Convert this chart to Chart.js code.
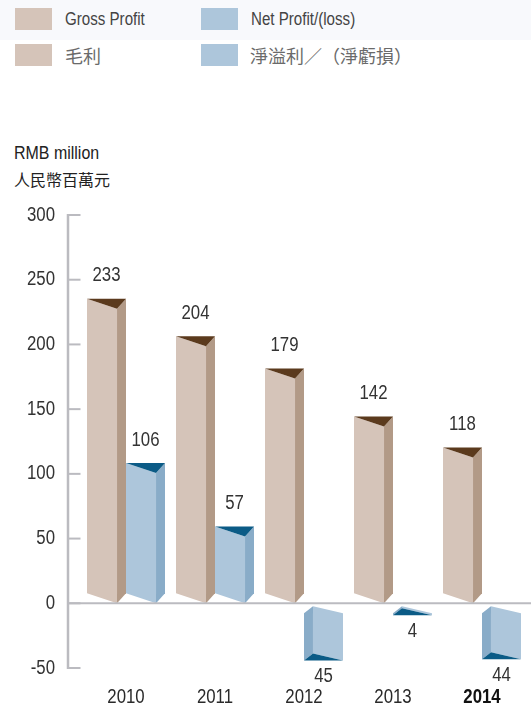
<!DOCTYPE html>
<html>
<head>
<meta charset="utf-8">
<script src="https://cdn.jsdelivr.net/npm/chart.js@4.4.1/dist/chart.umd.min.js"></script>
<style>
  html, body { margin: 0; padding: 0; background: #ffffff; }
  #wrap { position: relative; width: 531px; height: 710px; overflow: hidden;
          font-family: 'Liberation Sans', Arial, sans-serif; }
  #band { position: absolute; left: 0; top: 0; width: 531px; height: 40px; background: #f8f9fc; }
  .sw { position: absolute; width: 37px; height: 22px; }
  .lt { position: absolute; font-size: 18px; color: #444; line-height: 22px; white-space: nowrap;
        transform: scaleX(0.84); transform-origin: 0 50%; }
  .cjk { font-family: 'Noto Sans CJK TC', 'Noto Sans CJK SC', sans-serif; color: #6a6a6a; font-size: 18px;
         transform: none; }
  #unit1 { position: absolute; left: 14px; top: 142px; font-size: 19px; color: #222; line-height: 22px;
           white-space: nowrap; transform: scaleX(0.84); transform-origin: 0 50%; }
  #unit2 { position: absolute; left: 14px; top: 168px; font-size: 16px; color: #222; line-height: 22px;
           font-family: 'Noto Sans CJK TC', 'Noto Sans CJK SC', sans-serif; }
  #chartBox { position: absolute; left: 0; top: 0; width: 531px; height: 710px; }
</style>
</head>
<body>
<div id="wrap">
  <div id="band"></div>
  <div class="sw" style="left:15px;top:8px;background:#d5c4b9"></div>
  <div class="lt" style="left:65px;top:8px">Gross Profit</div>
  <div class="sw" style="left:201px;top:8px;background:#adc6db"></div>
  <div class="lt" style="left:251px;top:8px">Net Profit/(loss)</div>
  <div class="sw" style="left:15px;top:44px;background:#d5c4b9"></div>
  <div class="lt cjk" style="left:65px;top:44px">毛利</div>
  <div class="sw" style="left:201px;top:44px;background:#adc6db"></div>
  <div class="lt cjk" style="left:250px;top:44px">淨溢利／（淨虧損）</div>
  <div id="unit1">RMB million</div>
  <div id="unit2">人民幣百萬元</div>
  <div id="chartBox"><canvas id="c"></canvas></div>
</div>
<script>
// Figures in RMB million
const years = ['2010', '2011', '2012', '2013', '2014'];
const grossProfit = [233, 204, 179, 142, 118];
const netProfit = [106, 57, -45, -4, -44];
const yMin = -50, yMax = 300, yStep = 50;

const FONT = "'Liberation Sans', Arial, sans-serif";
const SQUEEZE = 0.84;   // narrow lettering for the figures

// Face colours for the prism bars: front, side, cap
const prismColours = [
  { front: '#d5c4b9', side: '#b29a87', cap: '#5b3a1d' },
  { front: '#adc6db', side: '#89acc8', cap: '#0b5b86' }
];

function poly(ctx, pts, fill) {
  ctx.beginPath();
  ctx.moveTo(pts[0][0], pts[0][1]);
  for (let i = 1; i < pts.length; i++) ctx.lineTo(pts[i][0], pts[i][1]);
  ctx.closePath();
  ctx.fillStyle = fill;
  ctx.fill();
}

function narrowText(ctx, text, x, y, align) {
  ctx.save();
  ctx.translate(x, y);
  ctx.scale(SQUEEZE, 1);
  ctx.textAlign = align;
  ctx.textBaseline = 'middle';
  ctx.fillText(text, 0, 0);
  ctx.restore();
}

// Triangular prism drawn over the box of a bar element
function drawPrism(ctx, el, base, col) {
  const w = el.width;
  const L = el.x - w / 2, R = el.x + w / 2;
  if (el.y <= base) {
    const F = L + w * 0.77;
    const topF = el.y + 7, topB = el.y - 3;
    const botF = base, botB = base - 10;
    poly(ctx, [[L, botB], [L, topB], [F, topF], [F, botF]], col.front);
    poly(ctx, [[F, botF], [F, topF], [R, topB], [R, botB]], col.side);
    poly(ctx, [[L, topB], [R, topB], [F, topF]], col.cap);
  } else {
    const F = L + w * 0.23;
    const h = Math.max(el.y - base - 11, 2);
    const topF = base + 3, topB = base + 10;
    const botF = topF + h, botB = topB + h;
    poly(ctx, [[L, topB], [F, topF], [F, botF], [L, botB]], col.side);
    poly(ctx, [[F, topF], [R, topB], [R, botB], [F, botF]], col.front);
    poly(ctx, [[L, botB], [F, botF], [R, botB]], col.cap);
  }
}

const prismPlugin = {
  id: 'prisms',
  afterDatasetsDraw(chart) {
    const ctx = chart.ctx;
    const y = chart.scales.y;
    const x = chart.scales.x;
    const base = y.getPixelForValue(0);
    const axisX = chart.chartArea.left - 13.5;
    ctx.save();
    chart.data.datasets.forEach((ds, di) => {
      const meta = chart.getDatasetMeta(di);
      meta.data.forEach(el => drawPrism(ctx, el, base, prismColours[di]));
    });

    // value axis line with tick marks
    ctx.strokeStyle = '#bbbbc0';
    ctx.lineWidth = 2.5;
    ctx.beginPath();
    ctx.moveTo(axisX, y.getPixelForValue(yMax) - 1);
    ctx.lineTo(axisX, y.getPixelForValue(yMin) + 1);
    ctx.stroke();
    ctx.lineWidth = 2;
    y.ticks.forEach(t => {
      const py = y.getPixelForValue(t.value);
      ctx.beginPath();
      ctx.moveTo(axisX, py);
      ctx.lineTo(axisX + 12.5, py);
      ctx.stroke();
    });
    // zero line
    ctx.beginPath();
    ctx.moveTo(axisX, base);
    ctx.lineTo(chart.width, base);
    ctx.stroke();

    // tick labels of the value axis
    ctx.font = '20px ' + FONT;
    ctx.fillStyle = '#333333';
    y.ticks.forEach(t => {
      narrowText(ctx, String(t.value), axisX - 13, y.getPixelForValue(t.value), 'right');
    });
    // year labels
    years.forEach((yr, i) => {
      const last = i === years.length - 1;
      ctx.font = (last ? 'bold ' : '') + '20px ' + FONT;
      ctx.fillStyle = last ? '#111111' : '#2a2a2a';
      narrowText(ctx, yr, x.getPixelForTick(i), 697, 'center');
    });

    // value labels
    ctx.font = '20px ' + FONT;
    ctx.fillStyle = '#333333';
    chart.data.datasets.forEach((ds, di) => {
      const meta = chart.getDatasetMeta(di);
      meta.data.forEach((el, i) => {
        const v = ds.data[i];
        let ly;
        if (v >= 0) {
          ly = el.y - 26;
        } else {
          const h = Math.max(el.y - base - 11, 2);
          ly = base + 10 + h + 16;
        }
        narrowText(ctx, String(Math.abs(v)), el.x, ly, 'center');
      });
    });
    ctx.restore();
  }
};

const clear = 'rgba(0,0,0,0)';
new Chart(document.getElementById('c'), {
  type: 'bar',
  data: {
    labels: years,
    datasets: [
      { label: 'Gross Profit', data: grossProfit, backgroundColor: clear, borderWidth: 0 },
      { label: 'Net Profit/(loss)', data: netProfit, backgroundColor: clear, borderWidth: 0 }
    ]
  },
  options: {
    responsive: true,
    maintainAspectRatio: false,
    animation: false,
    devicePixelRatio: 1,
    layout: { padding: { top: 215, right: 4.5, bottom: 0, left: 0 } },
    datasets: { bar: { barPercentage: 1, categoryPercentage: 78 / 89 } },
    plugins: { legend: { display: false }, tooltip: { enabled: false } },
    scales: {
      x: {
        grid: { display: false, drawTicks: false },
        border: { display: false },
        afterFit(scale) { scale.height = 42; },
        ticks: { display: false, autoSkip: false, maxRotation: 0 }
      },
      y: {
        min: yMin,
        max: yMax,
        grid: { display: false, drawTicks: false },
        border: { display: false },
        afterFit(scale) { scale.width = 81.5; },
        ticks: { display: false, stepSize: yStep }
      }
    }
  },
  plugins: [prismPlugin]
});
</script>
</body>
</html>
